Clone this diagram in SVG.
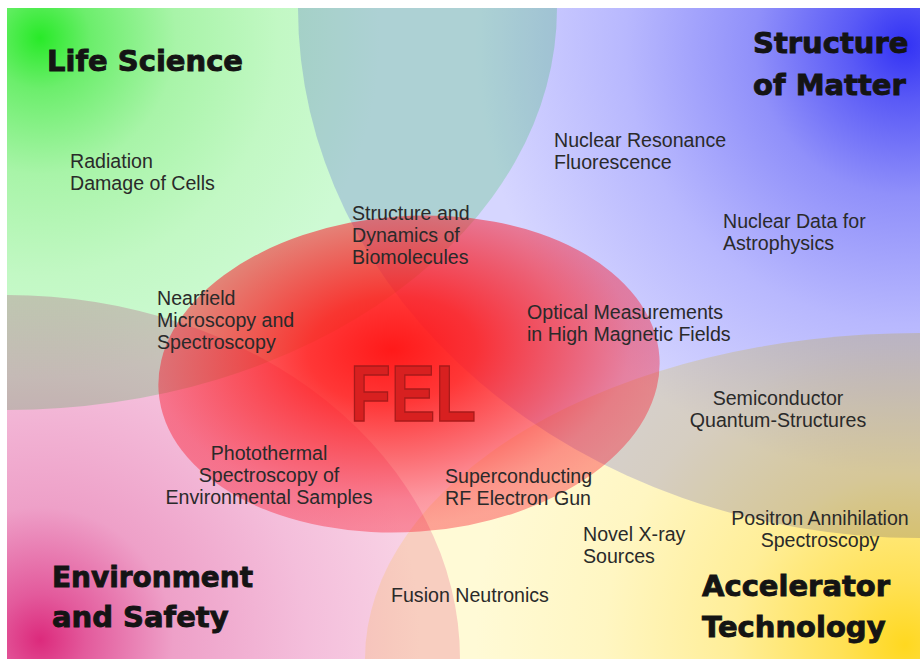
<svg xmlns="http://www.w3.org/2000/svg" width="920" height="659" viewBox="0 0 920 659">
  <defs>
    <clipPath id="panel">
      <rect x="7" y="8" width="913" height="651"/>
    </clipPath>
    <!-- four research domains, each glowing from its own corner -->
    <radialGradient id="gGreen" gradientUnits="userSpaceOnUse" cx="40" cy="38" r="340">
      <stop offset="0" stop-color="#28ea28"/>
      <stop offset="0.15" stop-color="#6cee6c"/>
      <stop offset="0.4" stop-color="#a8f4a8"/>
      <stop offset="0.7" stop-color="#c2f8c4"/>
      <stop offset="1" stop-color="#cefad4"/>
    </radialGradient>
    <radialGradient id="gBlue" gradientUnits="userSpaceOnUse" cx="905" cy="45" r="430">
      <stop offset="0" stop-color="#3232f4"/>
      <stop offset="0.13" stop-color="#5a5af6"/>
      <stop offset="0.35" stop-color="#9090fa"/>
      <stop offset="0.65" stop-color="#b8b8fe"/>
      <stop offset="1" stop-color="#d6d6ff"/>
    </radialGradient>
    <radialGradient id="gPink" gradientUnits="userSpaceOnUse" cx="40" cy="640" r="380">
      <stop offset="0" stop-color="#dc2a7c"/>
      <stop offset="0.12" stop-color="#e35a9c"/>
      <stop offset="0.35" stop-color="#eea0c8"/>
      <stop offset="0.7" stop-color="#f4bedb"/>
      <stop offset="1" stop-color="#f8d2e5"/>
    </radialGradient>
    <radialGradient id="gYellow" gradientUnits="userSpaceOnUse" cx="905" cy="645" r="430">
      <stop offset="0" stop-color="#ffd820"/>
      <stop offset="0.15" stop-color="#ffe156"/>
      <stop offset="0.4" stop-color="#ffee98"/>
      <stop offset="0.7" stop-color="#fff6c2"/>
      <stop offset="1" stop-color="#fffad6"/>
    </radialGradient>
    <!-- the FEL core: solid red in the middle, translucent toward the rim -->
    <radialGradient id="gCore" cx="0.47" cy="0.42" r="0.56">
      <stop offset="0" stop-color="#ff1010" stop-opacity="0.96"/>
      <stop offset="0.3" stop-color="#ff1616" stop-opacity="0.86"/>
      <stop offset="0.6" stop-color="#fa1820" stop-opacity="0.64"/>
      <stop offset="0.85" stop-color="#f91428" stop-opacity="0.44"/>
      <stop offset="1" stop-color="#f91428" stop-opacity="0.38"/>
    </radialGradient>
  </defs>
  <style>
    .domain { mix-blend-mode: multiply; }
    .t { font-family: "Liberation Sans", Arial, sans-serif; font-size: 19.6px; fill: #2a2a2a; }
    .tc { text-anchor: middle; }
    .h { font-family: "DejaVu Sans", "Liberation Sans", sans-serif; font-weight: bold; font-size: 29px; fill: #141414; stroke: #141414; stroke-width: 0.9; }
    .fel { font-family: "Liberation Sans", Arial, sans-serif; font-weight: bold; font-size: 79px; fill: #d82020; stroke: #a81a1a; stroke-width: 1.5; }
  </style>

  <rect width="920" height="659" fill="#ffffff"/>

  <g id="domains" clip-path="url(#panel)" style="isolation:isolate">
    <rect x="7" y="8" width="913" height="651" fill="#ffffff"/>
    <ellipse id="area-life-science" class="domain" cx="7" cy="8" rx="550" ry="402" fill="url(#gGreen)"/>
    <ellipse id="area-structure-of-matter" class="domain" cx="920" cy="8" rx="622" ry="530" fill="url(#gBlue)"/>
    <ellipse id="area-environment" class="domain" cx="7" cy="659" rx="453" ry="364" fill="url(#gPink)"/>
    <ellipse id="area-accelerator" class="domain" cx="920" cy="659" rx="555" ry="326" fill="url(#gYellow)"/>
  </g>

  <g id="core">
    <ellipse cx="409" cy="374" rx="251" ry="158" transform="rotate(-4 409 374)" fill="url(#gCore)"/>
    <text class="fel" x="350" y="421" textLength="126" lengthAdjust="spacingAndGlyphs">FEL</text>
  </g>

  <!-- domain headings -->
  <g id="heading-life-science"><text class="h" x="47" y="71">Life Science</text></g>
  <g id="heading-structure-of-matter">
    <text class="h" x="753" y="53">Structure</text>
    <text class="h" x="753" y="95">of Matter</text>
  </g>
  <g id="heading-environment">
    <text class="h" x="52" y="587" textLength="201" lengthAdjust="spacingAndGlyphs">Environment</text>
    <text class="h" x="52" y="627">and Safety</text>
  </g>
  <g id="heading-accelerator">
    <text class="h" x="702" y="596">Accelerator</text>
    <text class="h" x="702" y="637">Technology</text>
  </g>

  <!-- research topics -->
  <g id="topic-radiation-damage">
    <text class="t" x="70" y="168">Radiation</text>
    <text class="t" x="70" y="190">Damage of Cells</text>
  </g>
  <g id="topic-nuclear-resonance">
    <text class="t" x="554" y="147">Nuclear Resonance</text>
    <text class="t" x="554" y="169">Fluorescence</text>
  </g>
  <g id="topic-nuclear-data">
    <text class="t" x="723" y="228">Nuclear Data for</text>
    <text class="t" x="723" y="250">Astrophysics</text>
  </g>
  <g id="topic-biomolecules">
    <text class="t" x="352" y="220">Structure and</text>
    <text class="t" x="352" y="242">Dynamics of</text>
    <text class="t" x="352" y="264">Biomolecules</text>
  </g>
  <g id="topic-nearfield">
    <text class="t" x="157" y="305">Nearfield</text>
    <text class="t" x="157" y="327">Microscopy and</text>
    <text class="t" x="157" y="349">Spectroscopy</text>
  </g>
  <g id="topic-optical">
    <text class="t" x="527" y="319">Optical Measurements</text>
    <text class="t" x="527" y="341">in High Magnetic Fields</text>
  </g>
  <g id="topic-photothermal">
    <text class="t tc" x="269" y="460">Photothermal</text>
    <text class="t tc" x="269" y="482">Spectroscopy of</text>
    <text class="t tc" x="269" y="504">Environmental Samples</text>
  </g>
  <g id="topic-electron-gun">
    <text class="t" x="445" y="483">Superconducting</text>
    <text class="t" x="445" y="505">RF Electron Gun</text>
  </g>
  <g id="topic-semiconductor">
    <text class="t tc" x="778" y="405">Semiconductor</text>
    <text class="t tc" x="778" y="427">Quantum-Structures</text>
  </g>
  <g id="topic-positron">
    <text class="t tc" x="820" y="525">Positron Annihilation</text>
    <text class="t tc" x="820" y="547">Spectroscopy</text>
  </g>
  <g id="topic-xray">
    <text class="t" x="583" y="541">Novel X-ray</text>
    <text class="t" x="583" y="563">Sources</text>
  </g>
  <g id="topic-fusion">
    <text class="t" x="391" y="602">Fusion Neutronics</text>
  </g>
</svg>
